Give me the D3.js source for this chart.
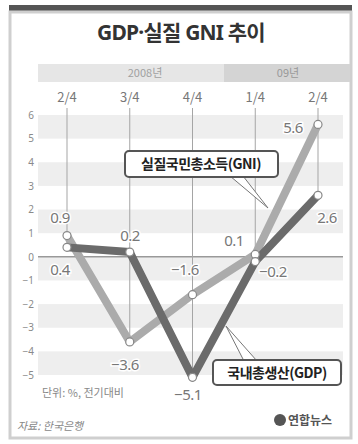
<!DOCTYPE html>
<html>
<head>
<meta charset="utf-8">
<script src="https://cdn.jsdelivr.net/npm/d3@7"></script>
<style>
  body { margin: 0; background: #fff; }
  svg text { font-family: "Noto Sans CJK KR", "Noto Sans", sans-serif; }
</style>
</head>
<body>
<div id="chart"></div>
<script>
// data
var quarters = ["2/4", "3/4", "4/4", "1/4", "2/4"];
var years = ["2008년", "09년"];
var gni = [0.9, -3.6, -1.6, 0.1, 5.6];   // 실질국민총소득
var gdp = [0.4, 0.2, -5.1, -0.2, 2.6];   // 국내총생산
var yTicks = [6, 5, 4, 3, 2, 1, 0, -1, -2, -3, -4, -5];

var svgWidth = 358;
var svgHeight = 444;

var svg = d3.select("#chart")
  .append("svg")
  .attr("width", svgWidth)
  .attr("height", svgHeight);

// frame
svg.append("rect").attr("x", 9).attr("y", 5).attr("width", 343).attr("height", 8).attr("fill", "#555");
svg.append("rect").attr("x", 10).attr("y", 12).attr("width", 341).attr("height", 426)
  .attr("fill", "none").attr("stroke", "#cfcfcf").attr("stroke-width", 3);

// title
svg.append("text")
  .attr("x", 181).attr("y", 40)
  .attr("text-anchor", "middle")
  .style("font-family", "'Noto Sans', 'Noto Sans CJK KR', sans-serif")
  .style("font-size", "21px").style("font-weight", "bold")
  .style("letter-spacing", "-0.8px")
  .attr("fill", "#333")
  .text("GDP·실질 GNI 추이");

// scales
var x = d3.scalePoint().domain(d3.range(quarters.length)).range([67, 318]);
var y = d3.scaleLinear().domain([-5, 6]).range([375, 115]);

// year band
svg.append("rect").attr("x", 38).attr("y", 64).attr("width", 186).attr("height", 18).attr("fill", "#e6e6e6");
svg.append("rect").attr("x", 224).attr("y", 64).attr("width", 126).attr("height", 18).attr("fill", "#d4d4d4");
svg.append("text").attr("x", 145).attr("y", 77).attr("text-anchor", "middle")
  .style("font-size", "11px").attr("fill", "#a0a0a0").text(years[0]);
svg.append("text").attr("x", 288).attr("y", 77).attr("text-anchor", "middle")
  .style("font-size", "11px").attr("fill", "#999").text(years[1]);

// quarter labels
svg.selectAll(".q").data(quarters).enter().append("text")
  .attr("x", (d, i) => x(i)).attr("y", 102)
  .attr("text-anchor", "middle")
  .style("font-size", "13px").attr("fill", "#777")
  .text(d => d);

// stripes
var stripes = [[5, 6], [3, 4], [1, 2], [-1, 0], [-3, -2], [-5, -4]];
svg.selectAll(".stripe").data(stripes).enter().append("rect")
  .attr("x", 38).attr("width", 305)
  .attr("y", d => y(d[1])).attr("height", d => y(d[0]) - y(d[1]))
  .attr("fill", "#eeeeee");

// y axis
var yAxis = d3.axisLeft(y).tickValues(yTicks).tickSize(0).tickPadding(0);
var ax = svg.append("g").attr("transform", "translate(34,0)").call(yAxis);
ax.select(".domain").remove();
ax.selectAll("text").style("font-size", "10px").attr("fill", "#8a8a8a")
  .style("font-family", "'Noto Sans', sans-serif");

// zero line
svg.append("line").attr("x1", 38).attr("x2", 343).attr("y1", y(0)).attr("y2", y(0))
  .attr("stroke", "#999").attr("stroke-width", 1.5);

// drop lines
svg.selectAll(".drop").data(quarters).enter().append("line")
  .attr("x1", (d, i) => x(i)).attr("x2", (d, i) => x(i))
  .attr("y1", 108).attr("y2", (d, i) => y(Math.min(gni[i], gdp[i])))
  .attr("stroke", "#a5a5a5").attr("stroke-width", 1);

// lines
var line = d3.line().x((d, i) => x(i)).y(d => y(d));
svg.append("path").datum(gni).attr("d", line)
  .attr("fill", "none").attr("stroke", "#ababab").attr("stroke-width", 8).attr("stroke-linejoin", "round");
svg.append("path").datum(gdp).attr("d", line)
  .attr("fill", "none").attr("stroke", "#6b6b6b").attr("stroke-width", 8).attr("stroke-linejoin", "round");

// markers
[gni, gdp].forEach(function (s) {
  svg.selectAll(null).data(s).enter().append("circle")
    .attr("cx", (d, i) => x(i)).attr("cy", d => y(d)).attr("r", 4)
    .attr("fill", "#fff").attr("stroke", "#888").attr("stroke-width", 1.2);
});

// value labels
var gniPos = [[60, 223], [125, 370], [185, 275], [234, 246], [293, 133]];
var gdpPos = [[60, 275], [130, 241], [188, 400], [273, 277], [327, 223]];
function fmt(v) { return v < 0 ? "\u2212" + Math.abs(v) : String(v); }
function valueLabels(s, pos) {
  svg.selectAll(null).data(s).enter().append("text")
    .attr("x", (d, i) => pos[i][0]).attr("y", (d, i) => pos[i][1])
    .attr("text-anchor", "middle")
    .style("font-size", "15px").style("font-family", "'Noto Sans', sans-serif")
    .style("letter-spacing", "-0.5px")
    .attr("fill", "#777")
    .attr("stroke", "#fff").attr("stroke-width", 3).attr("paint-order", "stroke")
    .text(d => fmt(d));
}
valueLabels(gni, gniPos);
valueLabels(gdp, gdpPos);

// callouts
svg.append("path").attr("d", "M230,176 L268,208 L243,176 Z")
  .attr("fill", "#fff").attr("stroke", "#777").attr("stroke-width", 1);
svg.append("rect").attr("x", 125).attr("y", 151).attr("width", 153).attr("height", 26).attr("rx", 4)
  .attr("fill", "#fff").attr("stroke", "#555").attr("stroke-width", 2);
svg.append("text").attr("x", 201).attr("y", 169).attr("text-anchor", "middle")
  .style("font-size", "14px").style("font-weight", "bold").style("letter-spacing", "-0.5px")
  .attr("fill", "#222").text("실질국민총소득(GNI)");

svg.append("path").attr("d", "M244,361 L226,326 L257,361 Z")
  .attr("fill", "#fff").attr("stroke", "#777").attr("stroke-width", 1);
svg.append("rect").attr("x", 213).attr("y", 360).attr("width", 128).attr("height", 25).attr("rx", 4)
  .attr("fill", "#fff").attr("stroke", "#555").attr("stroke-width", 2);
svg.append("text").attr("x", 277).attr("y", 378).attr("text-anchor", "middle")
  .style("font-size", "14px").style("font-weight", "bold").style("letter-spacing", "-0.5px")
  .attr("fill", "#222").text("국내총생산(GDP)");

// footer
svg.append("text").attr("x", 42).attr("y", 397)
  .style("font-size", "11px").attr("fill", "#888").text("단위: %, 전기대비");
svg.append("text").attr("x", 17).attr("y", 430)
  .style("font-size", "11px").style("font-style", "italic").attr("fill", "#888").text("자료: 한국은행");
svg.append("circle").attr("cx", 280).attr("cy", 420).attr("r", 6).attr("fill", "#555");
svg.append("text").attr("x", 288).attr("y", 425)
  .style("font-size", "12px").style("font-weight", "bold").attr("fill", "#555").text("연합뉴스");
</script>
</body>
</html>
